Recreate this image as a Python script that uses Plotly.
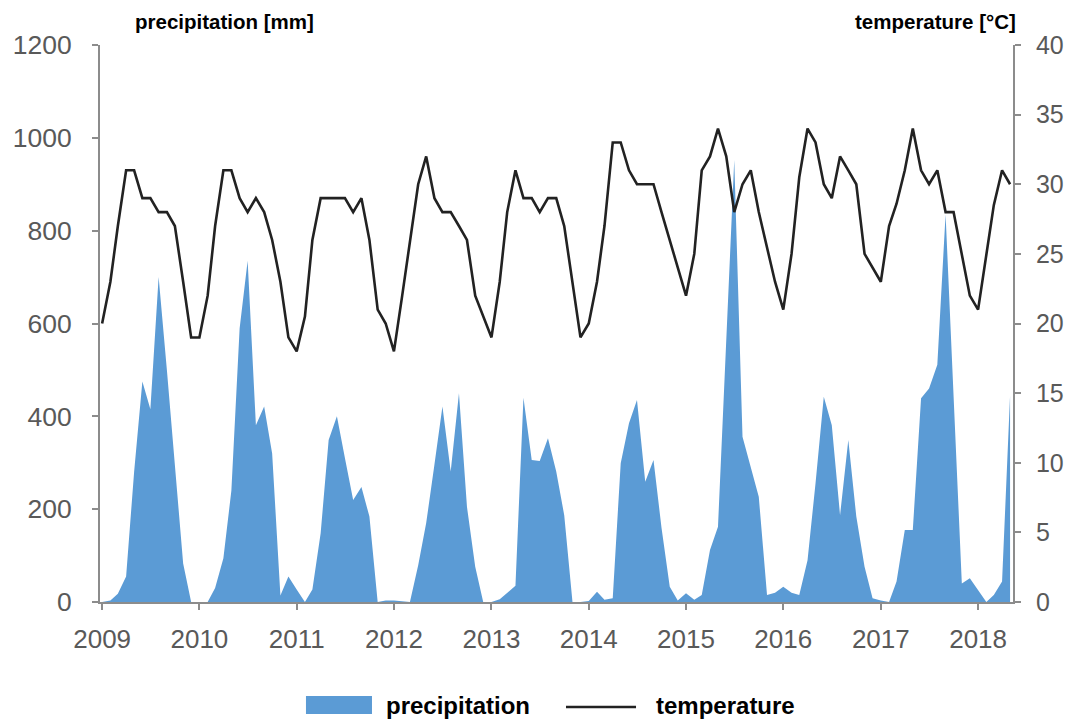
import plotly.graph_objects as go
import pandas as pd

# ---- data (monthly, Jan 2009 - May 2018) ----
start_month = "2009-01-01"
precip_2009 = [0, 3, 18, 55, 280, 475, 415, 700, 500, 290, 83, 0]
precip_2010 = [0, 0, 30, 94, 240, 590, 735, 381, 421, 320, 14, 55]
precip_2011 = [27, 0, 27, 148, 349, 400, 310, 220, 248, 184, 0, 3]
precip_2012 = [3, 1, 0, 79, 170, 296, 421, 281, 450, 205, 76, 0]
precip_2013 = [0, 6, 20, 35, 440, 306, 304, 353, 281, 187, 0, 0]
precip_2014 = [2, 22, 5, 8, 299, 385, 435, 259, 306, 160, 33, 3]
precip_2015 = [19, 5, 15, 112, 162, 560, 952, 356, 290, 227, 15, 20]
precip_2016 = [33, 20, 15, 90, 256, 442, 381, 187, 349, 184, 76, 8]
precip_2017 = [3, 0, 44, 155, 155, 439, 460, 511, 835, 450, 40, 51]
precip_2018 = [25, 0, 15, 44, 445]

temp_2009 = [20, 23, 27, 31, 31, 29, 29, 28, 28, 27, 23, 19]
temp_2010 = [19, 22, 27, 31, 31, 29, 28, 29, 28, 26, 23, 19]
temp_2011 = [18, 20.5, 26, 29, 29, 29, 29, 28, 29, 26, 21, 20]
temp_2012 = [18, 22, 26, 30, 32, 29, 28, 28, 27, 26, 22, 20.5]
temp_2013 = [19, 23, 28, 31, 29, 29, 28, 29, 29, 27, 23, 19]
temp_2014 = [20, 23, 27, 33, 33, 31, 30, 30, 30, 28, 26, 24]
temp_2015 = [22, 25, 31, 32, 34, 32, 28, 30, 31, 28, 25.5, 23]
temp_2016 = [21, 25, 30.5, 34, 33, 30, 29, 32, 31, 30, 25, 24]
temp_2017 = [23, 27, 28.6, 31, 34, 31, 30, 31, 28, 28, 25, 22]
temp_2018 = [21, 25, 28.5, 31, 30]

year_ticks = [2009, 2010, 2011, 2012, 2013, 2014, 2015, 2016, 2017, 2018]

precipitation = (precip_2009 + precip_2010 + precip_2011 + precip_2012 + precip_2013
                 + precip_2014 + precip_2015 + precip_2016 + precip_2017 + precip_2018)
temperature = (temp_2009 + temp_2010 + temp_2011 + temp_2012 + temp_2013
               + temp_2014 + temp_2015 + temp_2016 + temp_2017 + temp_2018)
dates = pd.date_range(start_month, periods=len(precipitation), freq="MS")

BLUE = "#5b9bd5"
AXIS = "#8c8c8c"
TICKC = "#595959"
SANS = "Liberation Sans, Arial, sans-serif"

fig = go.Figure()
fig.add_trace(go.Scatter(
    x=dates, y=precipitation, name="precipitation", mode="lines",
    line=dict(width=0, color=BLUE), fill="tozeroy", fillcolor=BLUE,
    yaxis="y", showlegend=False))
fig.add_trace(go.Scatter(
    x=dates, y=temperature, name="temperature", mode="lines",
    line=dict(width=2.6, color="#222222"), yaxis="y2", showlegend=False))

axis_common = dict(showline=True, linecolor=AXIS, linewidth=1.8, ticks="outside",
                   ticklen=6, tickwidth=1.8, tickcolor=AXIS, showgrid=False,
                   zeroline=False, automargin=False)

# the page adds an 8px body margin, so the figure is 8px smaller than the window
fig.update_layout(
    width=1070, height=714,
    margin=dict(l=92, r=65, t=37, b=120),
    paper_bgcolor="white", plot_bgcolor="white",
    xaxis=dict(type="date", range=["2008-12-24", "2018-05-12"],
               tickvals=[f"{y}-01-01" for y in year_ticks],
               ticktext=[str(y) for y in year_ticks], ticklabelstandoff=7,
               tickfont=dict(family=SANS, size=26, color=TICKC), **axis_common),
    yaxis=dict(range=[0, 1200], dtick=200, ticklabelstandoff=15,
               tickfont=dict(family=SANS, size=26.5, color=TICKC), **axis_common),
    yaxis2=dict(range=[0, 40], dtick=5, overlaying="y", side="right",
                anchor="x", ticklabelstandoff=10,
                tickfont=dict(family=SANS, size=25, color=TICKC), **axis_common),
    showlegend=False,
)

# axis titles
fig.add_annotation(text="<b>precipitation [mm]</b>", xref="paper", yref="paper",
                   x=0.036, y=1.042, xanchor="left", yanchor="middle", showarrow=False,
                   font=dict(family=SANS, size=20.5, color="black"))
fig.add_annotation(text="<b>temperature [°C]</b>", xref="paper", yref="paper",
                   x=1.0055, y=1.042, xanchor="right", yanchor="middle", showarrow=False,
                   font=dict(family=SANS, size=20.5, color="black"))

# legend (drawn manually to match reference look)
fig.add_shape(type="rect", xref="paper", yref="paper", x0=0.2256, x1=0.2979,
              y0=-0.2011, y1=-0.1688, fillcolor=BLUE, line=dict(width=0))
fig.add_annotation(text="<b>precipitation</b>", xref="paper", yref="paper",
                   x=0.3111, y=-0.1867, xanchor="left", yanchor="middle", showarrow=False,
                   font=dict(family=SANS, size=24, color="black"))
fig.add_shape(type="line", xref="paper", yref="paper", x0=0.5104, x1=0.5871,
              y0=-0.1885, y1=-0.1885, line=dict(color="#222222", width=2.6))
fig.add_annotation(text="<b>temperature</b>", xref="paper", yref="paper",
                   x=0.6068, y=-0.1867, xanchor="left", yanchor="middle", showarrow=False,
                   font=dict(family=SANS, size=24, color="black"))

fig.write_html("out.html")
